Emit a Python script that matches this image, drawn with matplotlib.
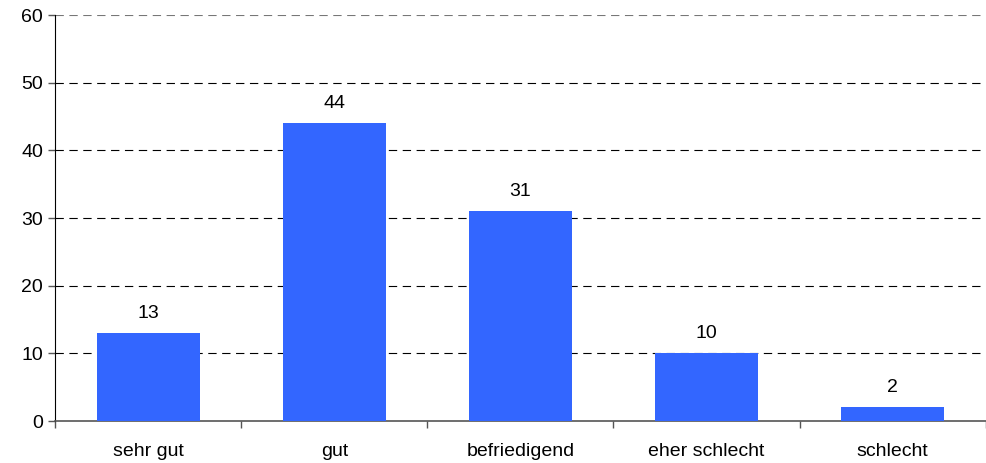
import matplotlib
matplotlib.use("Agg")
import matplotlib.pyplot as plt
import numpy as np

plt.rcParams["font.family"] = ["Liberation Sans", "DejaVu Sans"]
plt.rcParams["lines.scale_dashes"] = False

categories = ["sehr gut", "gut", "befriedigend", "eher schlecht", "schlecht"]
values = [13, 44, 31, 10, 2]
y_ticks = [0, 10, 20, 30, 40, 50, 60]

fig = plt.figure(figsize=(9.87, 4.63), dpi=100)
ax = fig.add_axes([0.0562, 0.0907, 0.9423, 0.8769])

x = np.arange(len(categories))
ax.bar(x, values, width=0.55, color="#3366FF", zorder=3)
for xi, v in zip(x, values):
    ax.annotate(str(v), (xi, v), xytext=(0, 8), textcoords="offset points",
                ha="center", va="bottom", fontsize=14)

ax.set_xlim(-0.5, len(categories) - 0.5)
ax.set_ylim(0, 60)
ax.set_yticks(y_ticks)
ax.set_yticklabels([str(t) for t in y_ticks], fontsize=14)

# category labels centred, tick marks at the boundaries
ax.set_xticks(np.arange(-0.5, len(categories)), minor=False)
ax.set_xticklabels([])
ax.set_xticks(x, minor=True)
ax.set_xticklabels(categories, minor=True, fontsize=14)
ax.tick_params(axis="x", which="major", length=5, color="#555555", width=1)
ax.tick_params(axis="x", which="minor", length=0, pad=16)
ax.tick_params(axis="y", length=5, color="#555555", width=1, pad=4)

for t in y_ticks[1:]:
    ax.axhline(t, color="#777777" if t == 60 else "black", lw=0.8,
               dashes=(6, 4), zorder=1)

ax.spines["top"].set_visible(False)
ax.spines["right"].set_visible(False)
ax.spines["left"].set_color("black")
ax.spines["bottom"].set_color("#555555")
ax.spines["bottom"].set_linewidth(1.2)

fig.savefig("out.png", dpi=100, facecolor="white")
